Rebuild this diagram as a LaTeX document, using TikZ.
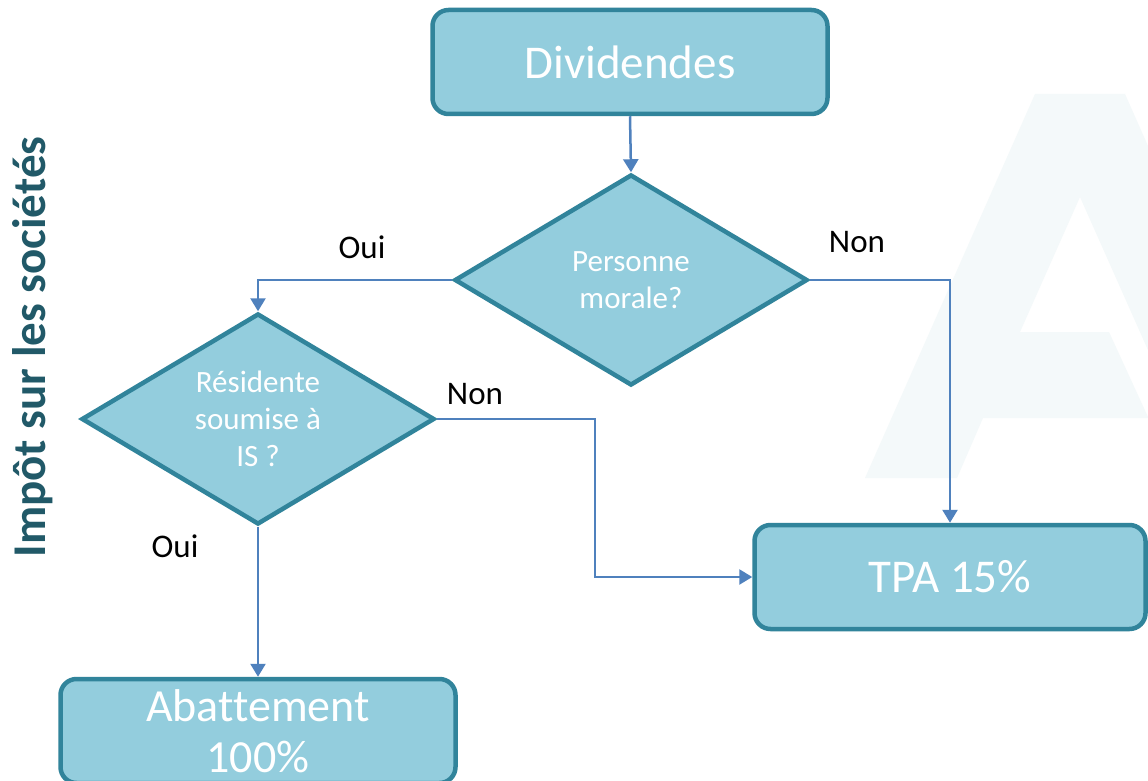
\documentclass[tikz,border=0pt]{standalone}
\usepackage{fontspec}
\setmainfont[Ligatures=NoCommon]{Carlito}
\usetikzlibrary{shapes.geometric,arrows.meta}
\definecolor{boxfill}{RGB}{147,205,221}
\definecolor{boxline}{RGB}{49,132,155}
\definecolor{flowblue}{RGB}{79,129,189}
\definecolor{sidetext}{RGB}{33,89,104}
\definecolor{wmark}{RGB}{244,249,250}
\begin{document}
\begin{tikzpicture}[x=1pt, y=-1pt,
    box/.style={draw=boxline, fill=boxfill, line width=4.5pt, rounded corners=16pt,
      minimum width=395pt, minimum height=104pt, text=white, align=center,
      font=\fontsize{47}{57}\selectfont},
    decision/.style={diamond, aspect=1.67, draw=boxline, fill=boxfill, line width=4.5pt,
      minimum width=353pt, minimum height=211pt, inner sep=0pt, text=white, align=center,
      font=\fontsize{31}{37}\selectfont},
    flow/.style={draw=flowblue, line width=2.5pt, -{Triangle[length=13pt,width=15pt]}},
    lbl/.style={font=\fontsize{33}{40}\selectfont}]
		\useasboundingbox[fill=white] (0,0) rectangle (1148,781);

		% faint letter in the background
		\fill[wmark] (1035,94) -- (1125,94) -- (1148,146) -- (1148,350) -- (1080,197)
			-- (1020,332) -- (1109,332) -- (1148,417) -- (1148,418) -- (983,418)
			-- (957,478) -- (865,478) -- cycle;

		\node[rotate=90, text=sidetext, font=\bfseries\fontsize{47}{56}\selectfont] (side) at (33,347) {Impôt sur les sociétés};

		\node[box] (div) at (630,62) {Dividendes};
		\node[decision] (pm) at (631,280) {Personne\\morale?};
		\node[decision] (res) at (258,419) {Résidente\\soumise à\\IS ?};
		\node[box, minimum width=391pt] (tpa) at (950,577) {TPA 15\%};
		\node[box, font=\fontsize{46}{51}\selectfont] (abat) at (258,731) {Abattement\\100\%};
		\coordinate (elbow) at (595,577);

		\draw[flow] (div.south) -- (pm.north);
		\draw[flow] (pm.west) -| (res.north);
		\draw[flow] (pm.east) -| (tpa.north);
		\draw[flow] (res.east) -| (elbow) -- (tpa.west);
		\draw[flow] (res.south) -- (abat.north);

		\node[lbl] (oui1) at (362,247) {Oui};
		\node[lbl] (non1) at (857,242) {Non};
		\node[lbl] (non2) at (475,394) {Non};
		\node[lbl] (oui2) at (175,546) {Oui};
	\end{tikzpicture}
\end{document}
